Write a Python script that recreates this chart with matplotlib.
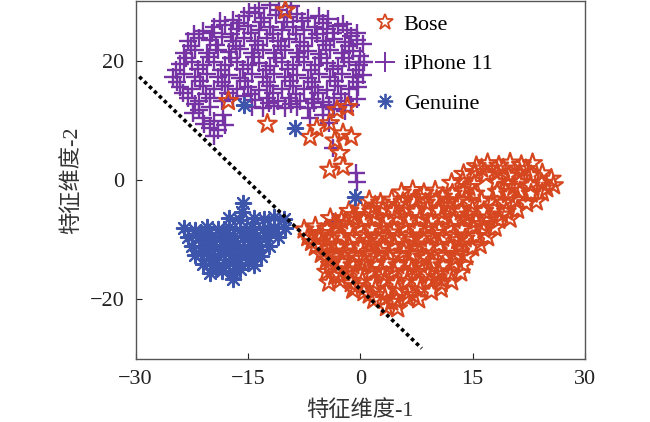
import matplotlib
matplotlib.use("Agg")
import matplotlib.pyplot as plt
from matplotlib.lines import Line2D

RED = "#D6471F"
PURPLE = "#7633A3"
BLUE = "#3D55AB"
SPINE = "#555555"

# --- data (t-SNE style feature map) ---
iphone_pts = [
    (-13.5, 28.8), (-12.0, 29.3), (-10.8, 28.5), (-9.3, 29.2), (-14.8, 28.2),
    (-17.0, 26.8), (-15.5, 27.4), (-14.0, 27.9), (-12.8, 27.2), (-11.3, 27.6),
    (-9.8, 27.3), (-8.4, 27.8), (-7.0, 27.1), (-5.5, 27.5), (-4.3, 26.9),
    (-21.0, 25.0), (-19.5, 25.6), (-18.0, 26.0), (-16.5, 25.3), (-15.0, 25.8),
    (-13.5, 25.2), (-12.0, 25.7), (-10.5, 25.1), (-9.0, 25.6), (-7.5, 25.2),
    (-6.0, 25.7), (-4.5, 25.3), (-3.0, 25.8), (-1.8, 25.2), (-0.5, 24.6),
    (-23.0, 23.2), (-21.5, 23.8), (-20.0, 23.4), (-18.5, 23.9), (-17.0, 23.3),
    (-15.5, 23.7), (-14.0, 23.2), (-12.5, 23.8), (-11.0, 23.3), (-9.5, 23.6),
    (-8.0, 23.1), (-6.5, 23.7), (-5.0, 23.2), (-3.5, 23.6), (-2.0, 23.1),
    (-0.5, 23.5), (0.4, 22.8),
    (-23.5, 21.3), (-22.0, 21.8), (-20.5, 21.2), (-19.0, 21.7), (-17.5, 21.4),
    (-16.0, 21.9), (-14.5, 21.3), (-13.0, 21.7), (-11.5, 21.2), (-10.0, 21.8),
    (-8.5, 21.3), (-7.0, 21.6), (-5.5, 21.1), (-4.0, 21.7), (-2.5, 21.2),
    (-1.0, 21.6), (0.0, 20.8),
    (-24.0, 19.4), (-22.5, 19.8), (-21.0, 19.2), (-19.5, 19.7), (-18.0, 19.3),
    (-16.5, 19.8), (-15.0, 19.2), (-13.5, 19.6), (-12.0, 19.1), (-10.5, 19.7),
    (-9.0, 19.3), (-7.5, 19.8), (-6.0, 19.2), (-4.5, 19.6), (-3.0, 19.1),
    (-1.5, 19.7), (-0.2, 19.2),
    (-25.0, 17.2), (-23.5, 17.7), (-22.0, 17.3), (-20.5, 17.8), (-19.0, 17.2),
    (-17.5, 17.6), (-16.0, 17.1), (-14.5, 17.7), (-13.0, 17.3), (-11.5, 17.8),
    (-10.0, 17.2), (-8.5, 17.6), (-7.0, 17.1), (-5.5, 17.7), (-4.0, 17.3),
    (-2.5, 17.8), (-1.0, 17.2), (0.3, 17.5),
    (-24.0, 15.6), (-22.5, 15.2), (-21.0, 15.7), (-19.5, 15.3), (-18.0, 15.8),
    (-16.5, 15.2), (-15.0, 15.6), (-13.5, 15.1), (-12.0, 15.7), (-10.5, 15.3),
    (-9.0, 15.8), (-7.5, 15.2), (-6.0, 15.6), (-4.5, 15.1), (-3.0, 15.7),
    (-1.5, 15.3), (-0.3, 15.6),
    (-23.0, 13.8), (-21.5, 13.3), (-20.0, 13.7), (-18.5, 13.2), (-17.0, 13.6),
    (-15.5, 14.0), (-14.0, 13.4), (-12.5, 13.8), (-11.0, 13.3), (-9.5, 13.7),
    (-8.0, 13.2), (-6.5, 13.6), (-5.0, 13.1), (-3.5, 13.7), (-2.0, 13.3),
    (-0.5, 13.6),
    (-21.5, 11.8), (-20.0, 12.2), (-14.5, 12.3), (-13.0, 12.1), (-11.5, 12.4),
    (-10.0, 12.1), (-8.5, 12.3), (-7.0, 12.0), (-5.0, 12.2), (-3.5, 11.9),
    (-2.0, 11.5),
    (-22.3, 11.2), (-21.0, 10.4), (-19.5, 9.8), (-18.3, 10.8), (-20.0, 8.7),
    (-19.5, 7.4), (-18.0, 9.2),
    (-6.7, 10.3), (-5.0, 10.8), (-4.2, 9.6), (-3.6, 5.3), (-0.6, 1.2),
    (-0.4, -0.3), (-3.6, -7.0),
    # in-between points of the dense mass
    (-18.7, 26.6), (-16.2, 26.3), (-13.3, 26.5), (-10.2, 26.4), (-7.8, 26.6),
    (-5.0, 26.3), (-2.3, 26.2),
    (-22.2, 24.5), (-19.8, 24.6), (-17.3, 24.4), (-14.6, 24.6), (-11.7, 24.4),
    (-8.6, 24.5), (-5.8, 24.4), (-3.7, 24.6), (-1.2, 24.1),
    (-22.6, 22.4), (-19.3, 22.6), (-16.6, 22.4), (-13.6, 22.6), (-10.6, 22.5),
    (-7.5, 22.4), (-4.6, 22.6), (-1.5, 22.4),
    (-23.2, 20.4), (-20.2, 20.6), (-17.2, 20.4), (-14.2, 20.6), (-11.2, 20.4),
    (-8.2, 20.6), (-5.2, 20.4), (-2.2, 20.5), (0.5, 19.8),
    (-24.6, 18.4), (-21.6, 18.6), (-18.6, 18.4), (-15.6, 18.6), (-12.6, 18.4),
    (-9.6, 18.6), (-6.6, 18.4), (-3.6, 18.6), (-0.6, 18.4),
    (-24.4, 16.4), (-21.4, 16.6), (-18.4, 16.4), (-15.4, 16.6), (-12.4, 16.4),
    (-9.4, 16.6), (-6.4, 16.4), (-3.4, 16.6), (-0.4, 16.4),
    (-23.6, 14.6), (-20.6, 14.4), (-17.6, 14.6), (-14.6, 14.4), (-11.6, 14.6),
    (-8.6, 14.4), (-5.6, 14.6), (-2.6, 14.4),
    (-22.0, 12.7), (-12.2, 12.9), (-9.2, 12.8), (-6.2, 12.9), (-4.2, 12.6),
    (-1.2, 12.5), (-20.8, 9.3), (-19.0, 8.3),
]

bose_pts = [
    # stray points near the iPhone 11 cluster
    (-10.0, 28.4), (-12.4, 9.4), (-6.7, 7.2), (-5.8, 8.7), (-4.1, 9.5),
    (-2.3, 7.8), (-1.2, 7.2), (-3.1, 11.7), (-1.7, 12.2), (-2.7, 4.5),
    (-4.1, 1.7), (-2.3, 2.2), (-3.4, 6.6), (-17.6, 13.2),
    # main cluster
    (15.5, 2.3), (17.0, 2.8), (18.5, 2.4), (20.0, 2.9), (21.5, 2.5), (23.0, 2.8),
    (13.8, 1.0), (15.3, 1.3), (16.8, 0.8), (18.3, 1.2), (19.8, 0.7),
    (21.3, 1.2), (22.8, 0.8), (24.3, 1.1), (25.5, 0.2),
    (12.2, -0.5), (13.7, -0.2), (15.2, -0.7), (18.2, -0.3), (19.7, -0.8),
    (21.2, -0.4), (22.7, -0.9), (24.2, -0.5), (25.8, -0.9),
    (5.5, -2.1), (7.0, -1.7), (8.5, -2.2), (10.0, -1.8), (12.3, -2.3),
    (13.8, -1.9), (15.3, -2.3), (18.3, -2.0), (19.8, -2.4), (21.3, -1.9),
    (22.8, -2.3), (24.3, -2.1),
    (1.2, -3.4), (2.7, -3.8), (4.2, -3.3), (5.7, -3.7), (7.2, -3.4),
    (8.7, -3.8), (10.2, -3.3), (11.7, -3.7), (13.2, -3.4), (14.7, -3.8),
    (16.2, -3.5), (17.7, -3.3), (19.2, -3.8), (20.7, -3.4), (22.2, -3.9),
    (23.5, -3.6),
    (-1.5, -5.2), (0.0, -4.8), (1.5, -5.3), (3.0, -4.9), (4.5, -5.2),
    (6.0, -4.8), (7.5, -5.3), (9.0, -4.9), (10.5, -5.2), (12.0, -4.8),
    (13.5, -5.3), (15.0, -4.9), (16.5, -5.2), (18.0, -4.8), (19.5, -5.3),
    (21.0, -5.0),
    (-4.0, -6.4), (-2.5, -6.8), (-1.0, -6.3), (0.5, -6.7), (2.0, -6.4),
    (3.5, -6.8), (5.0, -6.3), (6.5, -6.7), (8.0, -6.4), (9.5, -6.8),
    (11.0, -6.3), (12.5, -6.7), (14.0, -6.4), (15.5, -6.8), (17.0, -6.3),
    (18.5, -6.7), (20.0, -6.5),
    (-7.5, -8.3), (-6.0, -7.8), (-4.5, -8.2), (-3.0, -7.8), (-1.5, -8.3),
    (0.0, -7.9), (1.5, -8.2), (3.0, -7.8), (4.5, -8.3), (6.0, -7.9),
    (7.5, -8.2), (9.0, -7.8), (10.5, -8.3), (12.0, -7.9), (13.5, -8.2),
    (15.0, -7.8), (16.5, -8.3), (18.0, -8.0),
    (-7.0, -9.6), (-5.5, -9.3), (-4.0, -9.8), (-2.5, -9.4), (-1.0, -9.7),
    (0.5, -9.3), (2.0, -9.8), (3.5, -9.4), (5.0, -9.7), (6.5, -9.3),
    (8.0, -9.8), (9.5, -9.4), (11.0, -9.7), (12.5, -9.3), (14.0, -9.8),
    (15.5, -9.4), (17.0, -9.6),
    (-6.0, -11.2), (-4.5, -10.8), (-3.0, -11.3), (-1.5, -10.9), (0.0, -11.2),
    (1.5, -10.8), (3.0, -11.3), (4.5, -10.9), (6.0, -11.2), (7.5, -10.8),
    (9.0, -11.3), (10.5, -10.9), (12.0, -11.2), (13.5, -10.8), (15.0, -11.3),
    (16.0, -10.9),
    (-5.2, -12.4), (-3.7, -12.8), (-2.2, -12.3), (-0.7, -12.7), (0.8, -12.4),
    (2.3, -12.8), (3.8, -12.3), (5.3, -12.7), (6.8, -12.4), (8.3, -12.8),
    (9.8, -12.3), (11.3, -12.7), (12.8, -12.4), (14.2, -12.8),
    (-4.0, -14.2), (-2.5, -13.8), (-1.0, -14.3), (0.5, -13.9), (2.0, -14.2),
    (3.5, -13.8), (5.0, -14.3), (6.5, -13.9), (8.0, -14.2), (9.5, -13.8),
    (11.0, -14.3), (12.5, -13.9), (13.8, -14.2),
    (-4.5, -15.4), (-3.0, -15.8), (-1.5, -15.3), (0.0, -15.7), (1.5, -15.4),
    (3.0, -15.8), (4.5, -15.3), (6.0, -15.7), (7.5, -15.4), (9.0, -15.8),
    (10.5, -15.3), (12.0, -15.7), (13.4, -15.5),
    (-4.2, -17.2), (-2.7, -16.8), (-1.2, -17.3), (0.3, -16.9), (1.8, -17.2),
    (3.3, -16.8), (4.8, -17.3), (6.3, -16.9), (7.8, -17.2), (9.3, -16.8),
    (10.8, -17.3), (12.2, -17.0),
    (-1.0, -18.4), (0.5, -18.8), (2.0, -18.3), (3.5, -18.7), (5.0, -18.4),
    (6.5, -18.8), (8.0, -18.3), (9.5, -18.7), (10.8, -18.2),
    (1.8, -20.1), (3.3, -19.8), (4.8, -20.2), (6.3, -19.8), (7.8, -20.0),
    (3.5, -21.3), (5.0, -21.5),
    # extra fill points inside the main cluster
    (16.2, 1.9), (19.1, 1.9), (22.1, 1.8), (24.9, -1.4), (20.5, -1.2),
    (14.5, -1.2), (11.0, -2.8), (8.0, -2.9), (2.0, -4.3), (5.2, -4.2),
    (-0.8, -5.9), (-3.3, -7.2), (-5.2, -8.9), (-6.5, -10.4), (-3.8, -10.5),
    (-2.0, -12.0), (1.0, -10.2), (4.0, -8.8), (7.0, -10.0), (10.0, -8.9),
    (13.0, -10.1), (16.2, -7.4), (18.9, -5.8), (14.5, -5.8), (11.4, -4.3),
    (-4.5, -13.3), (-1.7, -15.0), (2.8, -15.1), (6.9, -14.9), (10.1, -16.3),
    (12.8, -13.1), (-3.4, -16.1), (1.2, -19.2), (4.2, -20.4), (7.1, -19.3),
    (8.8, -13.1), (5.8, -12.0), (2.6, -11.9), (0.0, -13.2), (-0.6, -17.8),
]

genuine_pts = [
    # strays
    (-15.5, 12.5), (-8.7, 8.7), (-0.7, -2.8),
    # main cluster
    (-15.6, -3.8), (-15.8, -5.4),
    (-17.5, -6.4), (-16.0, -6.7), (-14.2, -6.3), (-12.8, -6.6), (-11.5, -6.2),
    (-10.2, -6.6),
    (-23.5, -8.0), (-22.0, -8.3), (-20.5, -7.8), (-19.0, -8.2), (-17.5, -7.9),
    (-16.0, -8.3), (-14.5, -7.8), (-13.0, -8.2), (-11.5, -7.9), (-10.0, -8.1),
    (-23.0, -9.6), (-21.5, -9.3), (-20.0, -9.7), (-18.5, -9.3), (-17.0, -9.6),
    (-15.5, -9.3), (-14.0, -9.7), (-12.5, -9.4), (-11.0, -9.6),
    (-22.5, -11.0), (-21.0, -11.3), (-19.5, -10.9), (-18.0, -11.2),
    (-16.5, -10.9), (-15.0, -11.3), (-13.5, -10.9), (-12.2, -11.1),
    (-22.0, -12.6), (-20.5, -12.3), (-19.0, -12.7), (-17.5, -12.3),
    (-16.0, -12.6), (-14.5, -12.4), (-13.2, -12.8),
    (-21.0, -14.0), (-19.5, -14.3), (-18.0, -13.9), (-16.5, -14.2),
    (-15.0, -13.9), (-14.2, -14.2),
    (-20.0, -15.5), (-18.5, -15.3), (-17.0, -15.6), (-17.0, -16.5),
    (-21.2, -8.9), (-18.2, -8.8), (-15.2, -8.6), (-12.2, -8.7), (-20.2, -10.3),
    (-17.3, -10.4), (-14.3, -10.3), (-21.3, -11.9), (-18.7, -11.8),
    (-15.7, -11.8), (-19.8, -13.3), (-17.0, -13.3), (-14.6, -13.0),
    (-19.2, -14.9), (-16.0, -14.9),
]

boundary_x = [-29.5, 8.2]
boundary_y = [17.3, -28.2]

x_ticks = [-30, -15, 0, 15, 30]
y_ticks = [-20, 0, 20]

plt.rcParams["font.family"] = ["Liberation Serif", "Noto Sans CJK SC"]
plt.rcParams["axes.unicode_minus"] = True

fig = plt.figure(figsize=(6.5, 4.22), dpi=100)
ax = fig.add_axes([0.2085, 0.149, 0.6915, 0.849])

ix, iy = zip(*iphone_pts)
bx, by = zip(*bose_pts)
gx, gy = zip(*genuine_pts)

ax.scatter(ix, iy, marker="+", s=150, color=PURPLE, linewidths=1.7, zorder=2)
ax.scatter(bx, by, marker="*", s=200, facecolors="none", edgecolors=RED,
           linewidths=1.6, zorder=3)
ax.scatter(gx, gy, marker=(8, 2, 0), s=120, color=BLUE, linewidths=1.6, zorder=4)

ax.plot(boundary_x, boundary_y, color="black", linewidth=2.6,
        linestyle=(0, (1, 0.9)), zorder=5)

ax.set_xlim(-30, 30)
ax.set_ylim(-30, 30)
ax.set_xticks(x_ticks)
ax.set_yticks(y_ticks)
ax.tick_params(direction="in", length=4, width=0.8, colors="#222222",
               labelsize=16, pad=8)
for sp in ax.spines.values():
    sp.set_color(SPINE)
    sp.set_linewidth(1.0)

ax.set_xlabel("特征维度-1", fontsize=16, color="#333333", labelpad=8)
ax.set_ylabel("特征维度-2", fontsize=16, color="#333333", labelpad=5.5)

handles = [
    Line2D([], [], ls="none", marker="*", ms=12, mfc="none", mec=RED, mew=1.3),
    Line2D([], [], ls="none", marker="+", ms=14, mec=PURPLE, mew=1.4),
    Line2D([], [], ls="none", marker=(8, 2, 0), ms=11, mec=BLUE, mew=1.3),
]
ax.legend(handles, ["Bose", "iPhone 11", "Genuine"], loc="upper left",
          bbox_to_anchor=(0.53, 0.962), frameon=False, fontsize=16,
          handlelength=1.0, handletextpad=0.35, labelspacing=0.85,
          borderpad=0, borderaxespad=0)

fig.savefig("out.png", dpi=100, facecolor="white")
